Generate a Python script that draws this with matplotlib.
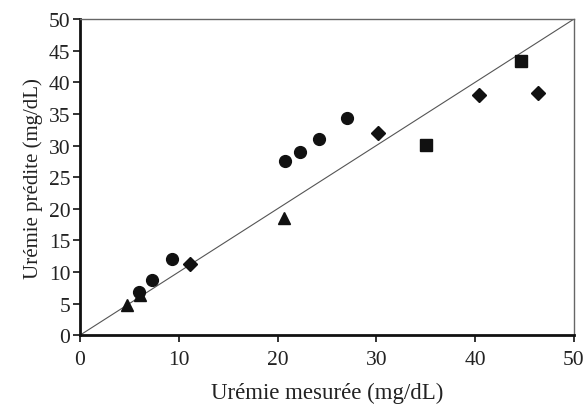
import matplotlib.pyplot as plt

plt.rcParams['font.family'] = ['Liberation Serif', 'DejaVu Serif']

# Points
cercles_x = [6.0, 7.3, 9.3, 20.8, 22.3, 24.2, 27.0]
cercles_y = [6.9, 8.8, 12.0, 27.5, 29.0, 31.0, 34.4]
losanges_x = [11.1, 30.2, 40.4, 46.4]
losanges_y = [11.3, 32.0, 38.0, 38.3]
triangles_x = [4.8, 6.1, 20.7]
triangles_y = [4.8, 6.3, 18.5]
carres_x = [35.0, 44.6]
carres_y = [30.1, 43.3]

ticks_x = [0, 10, 20, 30, 40, 50]
ticks_y = [0, 5, 10, 15, 20, 25, 30, 35, 40, 45, 50]

fig = plt.figure(figsize=(5.88, 4.10), dpi=100)
ax = fig.add_axes([0.136, 0.180, 0.840, 0.771])

# droite y = x
ax.plot([0, 50], [0, 50], color='#555555', lw=0.8, zorder=1)

ax.plot(cercles_x, cercles_y, 'o', color='#111111', ms=8.5, zorder=3)
ax.plot(losanges_x, losanges_y, 'D', color='#111111', ms=7, zorder=3)
ax.plot(triangles_x, triangles_y, '^', color='#111111', ms=9, zorder=3)
ax.plot(carres_x, carres_y, 's', color='#111111', ms=8.5, zorder=3)

ax.set_xlim(0, 50)
ax.set_ylim(0, 50)
ax.set_xticks(ticks_x)
ax.set_yticks(ticks_y)

for s in ['left', 'bottom']:
    ax.spines[s].set_linewidth(2)
    ax.spines[s].set_color('#111111')
for s in ['top', 'right']:
    ax.spines[s].set_linewidth(1)
    ax.spines[s].set_color('#666666')

ax.tick_params(axis='both', direction='out', length=5, width=1.2,
               labelsize=15.5, color='#111111', labelcolor='#222222')
ax.tick_params(axis='x', pad=6)
ax.tick_params(axis='y', pad=2)

ax.set_xlabel('Urémie mesurée (mg/dL)', fontsize=16.5, color='#222222', labelpad=9)
ax.set_ylabel('Urémie prédite (mg/dL)', fontsize=15, color='#222222', labelpad=4)

fig.savefig('out.png', dpi=100)
